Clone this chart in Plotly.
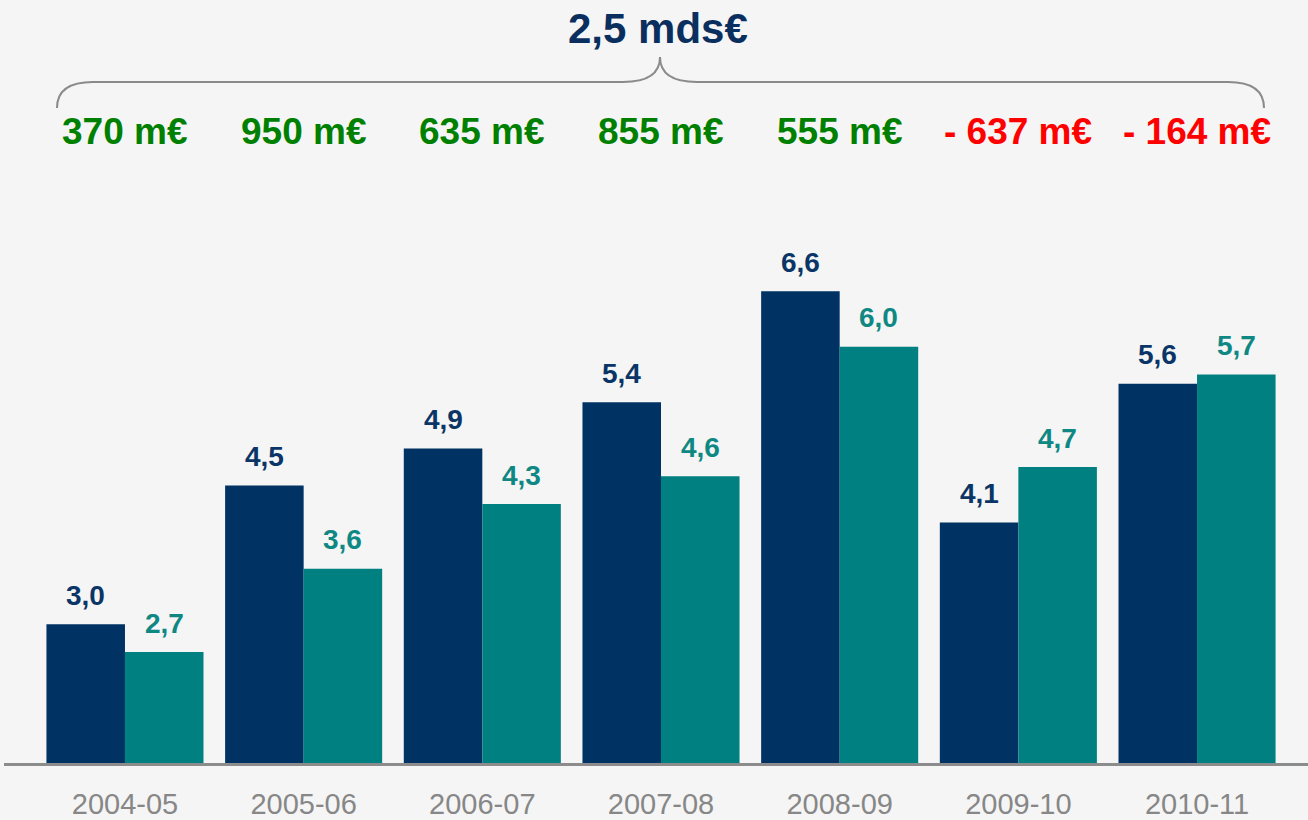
import plotly.graph_objects as go

categories = ["2004-05", "2005-06", "2006-07", "2007-08", "2008-09", "2009-10", "2010-11"]
series_a = [3.0, 4.5, 4.9, 5.4, 6.6, 4.1, 5.6]
series_b = [2.7, 3.6, 4.3, 4.6, 6.0, 4.7, 5.7]
net_values = [370, 950, 635, 855, 555, -637, -164]
total_label = "2,5 mds€"

NAVY = "#003263"
TEAL = "#008080"
NAVY_TXT = "#0a3566"
TEAL_TXT = "#0f8884"
BG = "#f5f5f5"
FONT = "Liberation Sans, Arial, sans-serif"

W, H = 1308, 820
ML, MR, MT, MB = 4, 0, 0, 57
PW, PH = W - ML - MR, H - MT - MB


def px(x):
    return (x - ML) / PW


def py(y):
    return (H - MB - y) / PH


fig = go.Figure()
fig.add_trace(go.Bar(x=categories, y=series_a, marker=dict(color=NAVY, line=dict(width=0)),
                     hoverinfo="skip"))
fig.add_trace(go.Bar(x=categories, y=series_b, marker=dict(color=TEAL, line=dict(width=0)),
                     hoverinfo="skip"))

annotations = []
for i, (a, b) in enumerate(zip(series_a, series_b)):
    annotations.append(dict(x=i - 0.22, y=a, xref="x", yref="y", yshift=29, yanchor="middle",
                            text=f"{a:.1f}".replace(".", ","), showarrow=False,
                            font=dict(family=FONT, size=28, color=NAVY_TXT, weight="bold")))
    annotations.append(dict(x=i + 0.22, y=b, xref="x", yref="y", yshift=29, yanchor="middle",
                            text=f"{b:.1f}".replace(".", ","), showarrow=False,
                            font=dict(family=FONT, size=28, color=TEAL_TXT, weight="bold")))

for i, v in enumerate(net_values):
    txt = f"{v} m€" if v >= 0 else f"- {abs(v)} m€"
    col = "#008000" if v >= 0 else "#ff0000"
    annotations.append(dict(x=i, y=py(131), xref="x", yref="paper", yanchor="middle",
                            text=txt, showarrow=False,
                            font=dict(family=FONT, size=37, color=col, weight="bold")))

annotations.append(dict(x=px(658), y=py(28), xref="paper", yref="paper", yanchor="middle",
                        text=total_label, showarrow=False,
                        font=dict(family=FONT, size=42, color="#0a2f5f", weight="bold")))

brace_pts = [
    ("M", [(57, 108)]),
    ("Q", [(57, 82), (93, 82)]),
    ("L", [(623, 82)]),
    ("Q", [(660, 82), (660, 57)]),
    ("Q", [(660, 82), (697, 82)]),
    ("L", [(1228, 82)]),
    ("Q", [(1264, 82), (1264, 108)]),
]
path = ""
for cmd, pts in brace_pts:
    path += cmd + " " + " ".join(f"{px(x):.5f},{py(y):.5f}" for x, y in pts) + " "

fig.update_layout(
    width=W, height=H,
    margin=dict(l=ML, r=MR, t=MT, b=MB, pad=0, autoexpand=False),
    paper_bgcolor=BG, plot_bgcolor=BG,
    barmode="group", bargap=0.121, bargroupgap=0,
    showlegend=False,
    annotations=annotations,
    shapes=[dict(type="path", path=path.strip(), xref="paper", yref="paper",
                 line=dict(color="#8a8a8a", width=2))],
    xaxis=dict(type="category", range=[-0.677, 6.621], showgrid=False, zeroline=False,
               automargin=False,
               showline=True, linecolor="#8c8c8c", linewidth=3,
               ticks="", ticklabelstandoff=13,
               tickfont=dict(family=FONT, size=29, color="#878787")),
    yaxis=dict(range=[1.5, 1.5 + PH / 92.5], visible=False, showgrid=False, zeroline=False,
               automargin=False),
    font=dict(family=FONT),
)

fig.write_html("out.html", config={"displayModeBar": False},
               post_script="document.body.style.margin='0';document.body.style.padding='0';"
                           "document.body.style.background='#f5f5f5';")
